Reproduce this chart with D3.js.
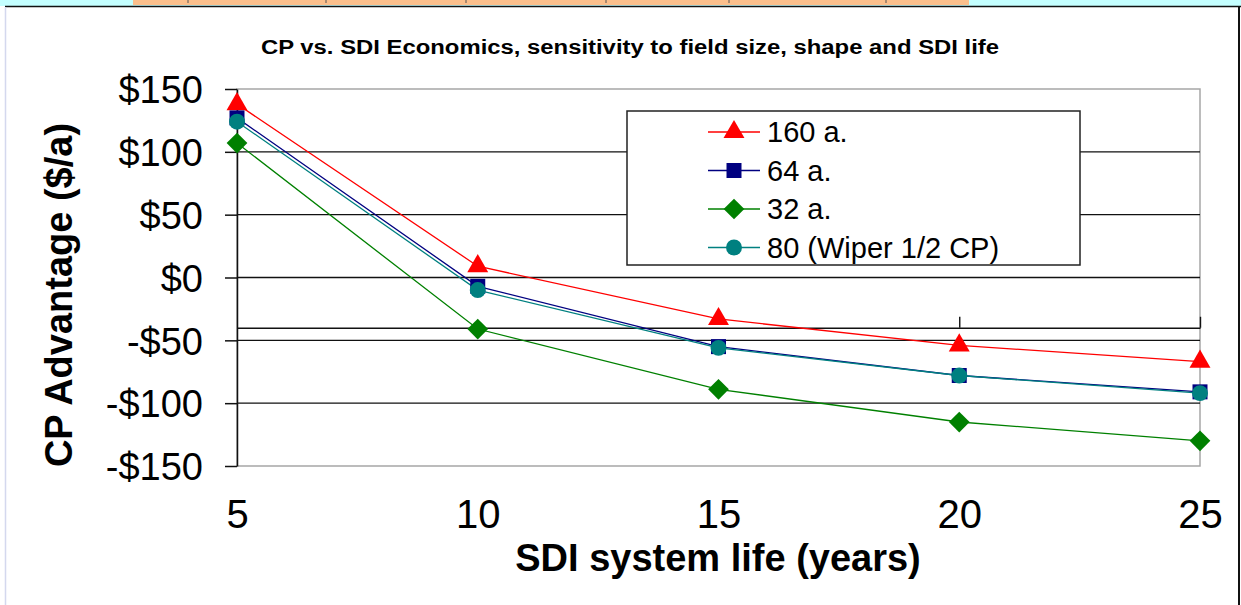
<!DOCTYPE html>
<meta charset="utf-8">
<style>
 body { margin: 0; background: #fff; font-family: 'Liberation Sans', Arial, sans-serif; }
 svg { display: block; }
</style>
<body>
<script src="https://cdn.jsdelivr.net/npm/d3@7"></script>
<script>

 var years = [5, 10, 15, 20, 25];
 var yTicks = [150, 100, 50, 0, -50, -100, -150];
 var gridValues = [100, 50, 0, -50, -100];
 var names = ["160 a.", "64 a.", "32 a.", "80 (Wiper 1/2 CP)"];
 var v160 = [138, 9, -33, -54, -67];
 var v64 = [127, -7, -55, -78, -91];
 var v32 = [107, -41, -89, -115, -130];
 var v80 = [124, -10, -56, -78, -92];
 var colors = ["#ff0000", "#000080", "#008000", "#008080"];
 var symbols = [d3.symbolTriangle, d3.symbolSquare, d3.symbolSquare, d3.symbolCircle];
 var symSizes = [190, 225, 215, 200];
 var symRotate = [0, 0, 45, 0];

 var series = [v160, v64, v32, v80].map(function(vals, i) {
     return {name: names[i], color: colors[i], symbol: symbols[i], size: symSizes[i], rot: symRotate[i],
             values: vals.map(function(v, j) { return {x: years[j], y: v}; })};
 });

 var W = 1241, H = 605;
 var margin = {top: 89, right: 41, bottom: 139, left: 237},
     width = W - margin.left - margin.right,
     height = H - margin.top - margin.bottom;

 var svgRoot = d3.select("body").append("svg")
     .attr("width", W)
     .attr("height", H);

 // slide frame bits
 svgRoot.append("rect").attr("x", 0).attr("y", 0).attr("width", W).attr("height", 6).attr("fill", "#c4ffff");
 svgRoot.append("rect").attr("x", 133).attr("y", 0).attr("width", 836).attr("height", 5).attr("fill", "#fbbf8c");
 [188, 326, 466, 606, 729, 886].forEach(function(x) {
     svgRoot.append("line").attr("x1", x).attr("x2", x).attr("y1", 0).attr("y2", 3).attr("stroke", "#555");
 });
 svgRoot.append("line").attr("x1", 5).attr("x2", W).attr("y1", 6.5).attr("y2", 6.5).attr("stroke", "#111").attr("stroke-width", 1.5);
 svgRoot.append("line").attr("x1", 5.5).attr("x2", 5.5).attr("y1", 7).attr("y2", H).attr("stroke", "#d4d8ee").attr("stroke-width", 1.5);
 svgRoot.append("line").attr("x1", 1239).attr("x2", 1239).attr("y1", 6).attr("y2", H).attr("stroke", "#111").attr("stroke-width", 2);

 var svg = svgRoot.append("g")
     .attr("transform", "translate(" + margin.left + "," + margin.top + ")");

 var xScale = d3.scaleLinear().domain([5, 25]).range([0, width]);
 var yScale = d3.scaleLinear().domain([-150, 150]).range([height, 0]);

 // plot border
 svg.append("rect")
    .attr("width", width).attr("height", height)
    .attr("fill", "none").attr("stroke", "#a6a6a6").attr("stroke-width", 1.5);

 // gridlines
 svg.selectAll(".grid")
    .data(gridValues)
    .enter().append("line")
    .attr("class", "grid")
    .attr("x1", 0).attr("x2", width)
    .attr("y1", d => yScale(d)).attr("y2", d => yScale(d))
    .attr("stroke", "#111").attr("stroke-width", 1.4);

 // stray axis line at -40
 var stray = d3.axisTop(xScale).tickValues([20, 25]).tickSize(11).tickFormat("").tickSizeOuter(0);
 svg.append("g")
    .attr("transform", "translate(0," + yScale(-40) + ")")
    .call(stray)
    .call(g => g.selectAll("path, line").attr("stroke", "#111").attr("stroke-width", 1.4));

 // y axis
 var yAxis = d3.axisLeft(yScale)
     .tickValues(yTicks)
     .tickSize(12)
     .tickSizeOuter(0)
     .tickPadding(22)
     .tickFormat(d => (d < 0 ? "-$" : "$") + Math.abs(d));
 svg.append("g")
    .call(yAxis)
    .attr("font-family", "'Liberation Sans', Arial, sans-serif")
    .attr("font-size", "38px")
    .call(g => g.selectAll("path, line").attr("stroke", "#111").attr("stroke-width", 1.5))
    .call(g => g.selectAll("text").attr("fill", "#000").attr("dy", "0.36em"));

 // x axis labels
 var xAxis = d3.axisBottom(xScale).tickValues(years).tickSize(0).tickPadding(34);
 svg.append("g")
    .attr("transform", "translate(0," + height + ")")
    .call(xAxis)
    .attr("font-family", "'Liberation Sans', Arial, sans-serif")
    .attr("font-size", "40px")
    .call(g => g.select(".domain").remove())
    .call(g => g.selectAll("text").attr("fill", "#000"));

 // lines
 var line = d3.line().x(d => xScale(d.x)).y(d => yScale(d.y));
 series.forEach(function(s) {
     svg.append("path")
        .datum(s.values)
        .attr("fill", "none")
        .attr("stroke", s.color)
        .attr("stroke-width", 1.3)
        .attr("d", line);
 });
 series.forEach(function(s) {
     svg.selectAll(null)
        .data(s.values)
        .enter().append("path")
        .attr("transform", d => "translate(" + xScale(d.x) + "," + yScale(d.y) + ") rotate(" + s.rot + ")")
        .attr("d", d3.symbol().type(s.symbol).size(s.size))
        .attr("fill", s.color);
 });

 // legend
 var legend = svgRoot.append("g").attr("transform", "translate(627,111)");
 legend.append("rect")
    .attr("width", 453).attr("height", 154)
    .attr("fill", "#fff").attr("stroke", "#222").attr("stroke-width", 1.5);
 var rows = legend.selectAll(".row")
    .data(series)
    .enter().append("g")
    .attr("transform", (d, i) => "translate(0," + (21 + i * 38.5) + ")");
 rows.append("line")
    .attr("x1", 81).attr("x2", 133)
    .attr("stroke", d => d.color).attr("stroke-width", 1.3);
 rows.append("path")
    .attr("transform", d => "translate(107,0) rotate(" + d.rot + ")")
    .attr("d", d => d3.symbol().type(d.symbol).size(d.size)())
    .attr("fill", d => d.color);
 rows.append("text")
    .attr("x", 140)
    .attr("dy", "0.36em")
    .attr("font-size", "29px")
    .text(d => d.name);

 // title
 svgRoot.append("text")
    .attr("x", 630).attr("y", 54)
    .attr("text-anchor", "middle")
    .attr("font-weight", "bold")
    .attr("font-size", "20px")
    .attr("textLength", 738)
    .attr("lengthAdjust", "spacingAndGlyphs")
    .text("CP vs. SDI Economics,  sensitivity to field size, shape and SDI life");

 // y axis title
 svgRoot.append("text")
    .attr("transform", "translate(72,295) rotate(-90)")
    .attr("text-anchor", "middle")
    .attr("font-weight", "bold")
    .attr("font-size", "38px")
    .text("CP Advantage ($/a)");

 // x axis title
 svgRoot.append("text")
    .attr("x", 718).attr("y", 571)
    .attr("text-anchor", "middle")
    .attr("font-weight", "bold")
    .attr("font-size", "38px")
    .text("SDI system life (years)");

</script>
